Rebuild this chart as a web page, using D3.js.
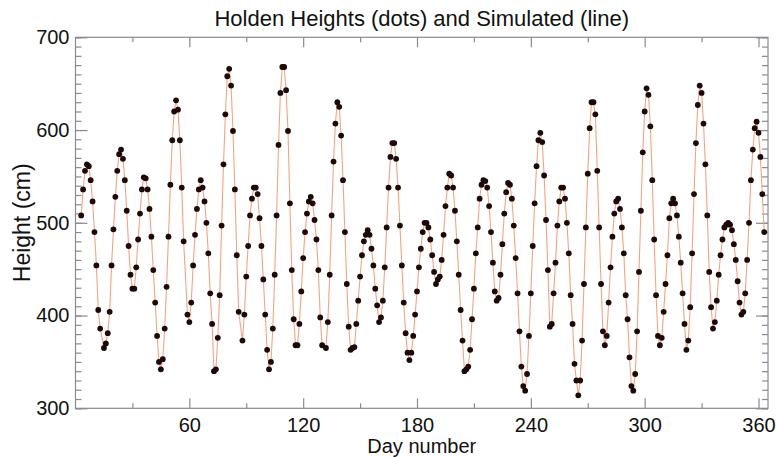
<!DOCTYPE html>
<html>
<head>
<meta charset="utf-8">
<script src="https://cdn.jsdelivr.net/npm/d3@7"></script>
<style>
  html, body { margin: 0; padding: 0; background: #ffffff; }
  svg { display: block; }
  text { font-family: "Liberation Sans", Arial, Helvetica, sans-serif; fill: #111; }
</style>
</head>
<body>
<svg id="chart" width="776" height="457"></svg>
<script>
// ---- Data ----
const firstDay = 3;
const lastDay = 363;
// observed heights (cm), one per day from firstDay; null = no observation
const heights = [
  508,536,556,563,561,546,523,490,454,406,
  386,null,365,370,381,404,454,493,528,556,
  574,579,569,546,513,475,444,429,429,452,
  482,510,536,549,548,536,515,485,449,414,
  378,350,342,353,386,431,485,541,589,620,
  632,622,589,538,480,null,401,393,414,454,
  487,515,536,546,538,523,500,467,424,391,
  340,342,376,422,497,563,617,658,666,648,
  599,536,465,404,null,373,401,442,475,508,
  526,538,538,531,505,475,439,401,363,342,
  350,386,444,508,584,640,668,668,643,599,
  521,449,396,368,368,391,426,462,490,510,
  523,528,521,503,482,449,398,368,null,365,
  393,444,508,566,607,630,625,594,546,490,
  434,388,363,365,366,391,416,442,465,480,
  487,492,487,472,454,429,411,393,398,416,
  452,495,538,571,586,586,569,538,497,454,
  414,381,360,352,360,378,401,426,452,472,
  490,500,500,495,482,465,447,434,439,442,
  460,487,518,538,553,551,538,513,480,444,
  406,373,340,342,345,363,396,429,467,495,
  526,541,546,545,538,518,490,457,426,416,
  419,444,477,510,533,543,541,526,497,462,
  424,383,345,324,319,337,378,424,475,521,
  561,589,597,587,551,503,449,388,391,424,
  457,497,523,538,538,526,500,467,422,391,
  348,330,314,330,373,434,495,553,602,630,
  630,617,556,495,434,383,368,378,414,452,
  485,510,523,526,515,495,467,422,396,355,
  324,319,337,383,447,513,576,620,645,638,
  604,546,482,422,378,368,376,404,434,465,
  505,521,526,521,508,485,457,424,391,363,
  373,409,467,531,586,627,648,640,607,563,
  508,447,409,386,393,416,444,465,482,495,
  498,500,498,492,477,460,437,414,401,404,
  424,460,500,546,579,602,609,597,571,531,
  490
];
const xMajorTicks = [60, 120, 180, 240, 300, 360];
const xMinorTicks = [30, 90, 150, 210, 270, 330];
const yMajorTicks = [300, 400, 500, 600, 700];
const yMinorTicks = d3.range(300, 701, 10);
const xDomain = [0, 365];
const yDomain = [300, 700];
const titleText = "Holden Heights (dots) and Simulated (line)";
const xLabel = "Day number";
const yLabel = "Height (cm)";

// ---- Layout ----
const W = 776, H = 457;
const L = 75.5, R = 768, T = 37.3, B = 408.3;
const axisColor = "#8a8a94";
const lineColor = "#f2a584";
const dotColor = "#1c0a0a";

const svg = d3.select("#chart");
const x = d3.scaleLinear().domain(xDomain).range([L, R]);
const y = d3.scaleLinear().domain(yDomain).range([B, T]);

const days = d3.range(firstDay, lastDay + 1);
const data = days.map((d, i) => ({ day: d, h: heights[i] })).filter(d => d.h != null);

// plot box
svg.append("rect")
  .attr("x", L).attr("y", T).attr("width", R - L).attr("height", B - T)
  .attr("fill", "none").attr("stroke", axisColor).attr("stroke-width", 1.2);

// axes (ticks pointing inward)
function styleAxis(g) {
  g.select(".domain").remove();
  g.selectAll(".tick line").attr("stroke", axisColor).attr("stroke-width", 1.2);
  g.selectAll("text").style("font-size", "20px").attr("fill", "#111");
}
svg.append("g").attr("transform", `translate(0,${B})`)
  .call(d3.axisBottom(x).tickValues(xMajorTicks).tickSize(-10).tickPadding(10).tickFormat(d3.format("d")))
  .call(styleAxis);
svg.append("g").attr("transform", `translate(0,${B})`)
  .call(d3.axisBottom(x).tickValues(xMinorTicks).tickSize(-5).tickFormat(""))
  .call(styleAxis);
svg.append("g").attr("transform", `translate(0,${T})`)
  .call(d3.axisTop(x).tickValues(xMajorTicks).tickSize(-10).tickFormat(""))
  .call(styleAxis);
svg.append("g").attr("transform", `translate(0,${T})`)
  .call(d3.axisTop(x).tickValues(xMinorTicks).tickSize(-5).tickFormat(""))
  .call(styleAxis);

svg.append("g").attr("transform", `translate(${L},0)`)
  .call(d3.axisLeft(y).tickValues(yMinorTicks).tickSize(-6).tickFormat(""))
  .call(styleAxis);
svg.append("g").attr("transform", `translate(${L},0)`)
  .call(d3.axisLeft(y).tickValues(yMajorTicks).tickSize(-12).tickPadding(6).tickFormat(d3.format("d")))
  .call(styleAxis);
svg.append("g").attr("transform", `translate(${R},0)`)
  .call(d3.axisRight(y).tickValues(yMinorTicks).tickSize(-6).tickFormat(""))
  .call(styleAxis);
svg.append("g").attr("transform", `translate(${R},0)`)
  .call(d3.axisRight(y).tickValues(yMajorTicks).tickSize(-12).tickFormat(""))
  .call(styleAxis);

// simulated line
const line = d3.line().x(d => x(d.day)).y(d => y(d.h));
svg.append("path").datum(data)
  .attr("d", line).attr("fill", "none")
  .attr("stroke", lineColor).attr("stroke-width", 1.1);

// observed dots
svg.append("g").selectAll("circle").data(data).join("circle")
  .attr("cx", d => x(d.day)).attr("cy", d => y(d.h)).attr("r", 2.9)
  .attr("fill", dotColor);

// titles
svg.append("text").attr("x", (L + R) / 2).attr("y", 26)
  .attr("text-anchor", "middle").style("font-size", "22px").text(titleText);
svg.append("text").attr("x", (L + R) / 2).attr("y", 453)
  .attr("text-anchor", "middle").style("font-size", "20px").text(xLabel);
svg.append("text").attr("transform", `translate(30,${(T + B) / 2}) rotate(-90)`)
  .attr("text-anchor", "middle").style("font-size", "23px").text(yLabel);
</script>
</body>
</html>
